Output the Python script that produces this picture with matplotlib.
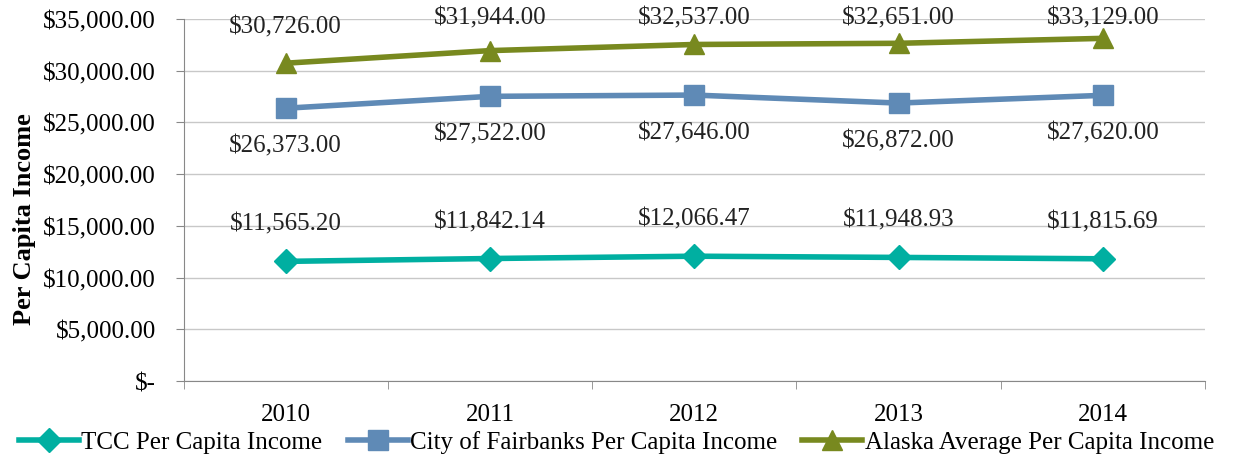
import matplotlib.pyplot as plt
from matplotlib.ticker import FuncFormatter

years = ['2010', '2011', '2012', '2013', '2014']
tcc = [11565.20, 11842.14, 12066.47, 11948.93, 11815.69]
fairbanks = [26373.00, 27522.00, 27646.00, 26872.00, 27620.00]
alaska = [30726.00, 31944.00, 32537.00, 32651.00, 33129.00]

plt.rcParams['font.family'] = ['Liberation Serif', 'DejaVu Serif']

fig = plt.figure(figsize=(12.33, 4.64), dpi=100)
ax = fig.add_axes([183.5 / 1233, 1 - 382 / 464, (1205 - 183.5) / 1233, (382 - 20) / 464])

x = list(range(len(years)))
teal = '#00AFA1'
blue = '#5F8AB6'
olive = '#78891F'

ax.plot(x, tcc, color=teal, lw=4, marker='D', ms=12, label='TCC Per Capita Income')
ax.plot(x, fairbanks, color=blue, lw=4, marker='s', ms=14, label='City of Fairbanks Per Capita Income')
ax.plot(x, alaska, color=olive, lw=4, marker='^', ms=15, label='Alaska Average Per Capita Income')

fs = 18
for i in x:
    ax.annotate(f'${tcc[i]:,.2f}', (i, tcc[i]), xytext=(0, 27), textcoords='offset points',
                ha='center', va='center', fontsize=fs, color='#222222')
    ax.annotate(f'${fairbanks[i]:,.2f}', (i, fairbanks[i]), xytext=(0, -27), textcoords='offset points',
                ha='center', va='center', fontsize=fs, color='#222222')
    # labels above the top series are kept inside the plot area
    ax.annotate(f'${alaska[i]:,.2f}', (i, alaska[i]), xytext=(i, min(alaska[i] + 3600, 35150)),
                textcoords='data', ha='center', va='center', fontsize=fs, color='#222222',
                annotation_clip=False)

ax.set_xlim(-0.5, 4.5)
ax.set_ylim(0, 35000)
ax.set_yticks(range(0, 35001, 5000))
ax.yaxis.set_major_formatter(FuncFormatter(lambda v, p: '$-' if v == 0 else f'${v:,.2f}'))
ax.set_xticks(x)
ax.set_xticklabels(years)
ax.set_xticks([i - 0.5 for i in range(6)], minor=True)
ax.tick_params(axis='x', which='major', length=0, pad=16, labelsize=fs)
ax.tick_params(axis='x', which='minor', length=6, color='#888888')
ax.tick_params(axis='y', length=6, color='#888888', labelsize=fs, pad=14)

ax.grid(axis='y', color='#c8c8c8', lw=1)
ax.set_axisbelow(True)
for s in ['top', 'right']:
    ax.spines[s].set_visible(False)
for s in ['left', 'bottom']:
    ax.spines[s].set_color('#888888')

ax.set_ylabel('Per Capita Income', fontsize=19, fontweight='bold')
ax.yaxis.set_label_coords(-0.144, 0.45)

fig.legend(loc='lower center', bbox_to_anchor=(0.5, -0.028), ncol=3, frameon=False,
           fontsize=fs, handlelength=2.4, handletextpad=0.1, columnspacing=1.0)

fig.savefig('out.png', dpi=100)
